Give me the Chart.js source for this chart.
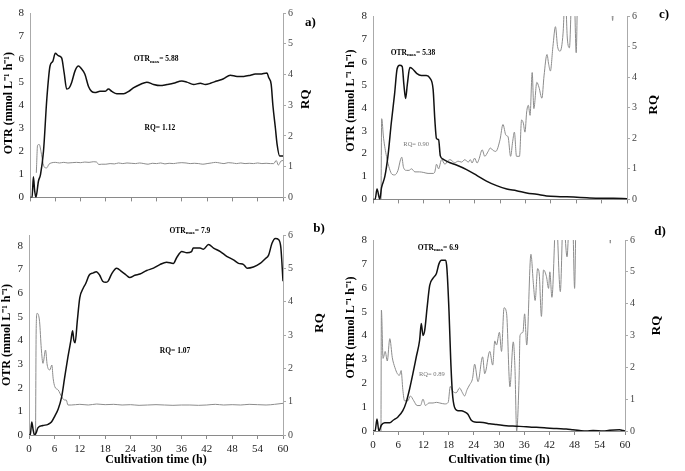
<!DOCTYPE html>
<html>
<head>
<meta charset="utf-8">
<script src="https://cdn.jsdelivr.net/npm/chart.js@4.4.1/dist/chart.umd.min.js"></script>
<style>
  body { margin: 0; background: #fff; width: 685px; height: 471px; position: relative; overflow: hidden; }
  canvas { position: absolute; }
</style>
</head>
<body>
<canvas id="pa"></canvas>
<canvas id="pb"></canvas>
<canvas id="pc"></canvas>
<canvas id="pd"></canvas>
<script>
// ---- data (time in h, OTR in mmol/L/h, RQ dimensionless) ----
var xTicks = [0, 6, 12, 18, 24, 30, 36, 42, 48, 54, 60];
var otrTicks = [0, 1, 2, 3, 4, 5, 6, 7, 8];
var rqTicks = [0, 1, 2, 3, 4, 5, 6];

// a)
var otrA_t = [0, 0.5, 0.8, 1.1, 1.4, 2, 2.5, 3.2, 4, 4.75, 5.4, 6, 6.7, 7.5, 8.1, 8.7, 9.3, 9.9, 10.7, 11.5, 12.1, 13, 13.9, 14.6, 15.4, 16.6, 17.8, 18.6, 19.4, 20.6, 22.2, 23.4, 24.5, 26.1, 27.7, 29.3, 30.9, 32.5, 34, 36, 37.2, 38.8, 40.4, 41.6, 42.8, 44.3, 45.9, 47.5, 49.1, 50.7, 52.3, 53.4, 54.6, 56.2, 56.6, 57.2, 57.6, 58.2, 58.6, 59.2, 60];
var otrA_v = [0, 0, 0.9, 0.3, 0, 0.7, 1.0, 2.0, 4.3, 5.7, 5.9, 6.25, 6.15, 6.05, 5.4, 4.7, 4.75, 5.0, 5.5, 5.7, 5.6, 5.35, 4.8, 4.6, 4.55, 4.6, 4.6, 4.7, 4.6, 4.5, 4.5, 4.6, 4.75, 4.9, 5.0, 4.9, 4.85, 4.9, 4.95, 5.05, 5.0, 4.9, 4.95, 4.9, 4.95, 5.05, 5.15, 5.3, 5.25, 5.25, 5.3, 5.35, 5.35, 5.4, 5.2, 4.9, 4.0, 3.0, 2.3, 1.8, 1.8];
var rqA_t = [1.5, 1.8, 2.2, 2.6, 3.1, 3.5, 3.95, 4.5, 5.0, 6, 7, 8, 9, 10, 11, 12, 13, 14, 15, 15.8, 16.3, 17, 18, 19, 20, 21, 22, 23, 24, 25, 26, 27, 28, 29, 30, 31, 32, 33, 34, 35, 36, 37, 38, 39, 40, 41, 42, 43, 44, 45, 46, 47, 48, 49, 50, 51, 52, 53, 54, 55, 56, 57, 57.8, 58.4, 58.9, 59.5, 60];
var rqA_v = [0.8, 1.7, 1.72, 1.5, 1.1, 0.97, 0.96, 1.08, 1.12, 1.14, 1.12, 1.14, 1.12, 1.13, 1.14, 1.13, 1.15, 1.14, 1.16, 1.15, 1.07, 1.08, 1.08, 1.1, 1.09, 1.12, 1.1, 1.12, 1.11, 1.1, 1.12, 1.1, 1.08, 1.11, 1.1, 1.12, 1.09, 1.11, 1.1, 1.12, 1.13, 1.12, 1.1, 1.11, 1.1, 1.08, 1.1, 1.12, 1.14, 1.12, 1.1, 1.13, 1.12, 1.1, 1.12, 1.1, 1.11, 1.1, 1.12, 1.1, 1.11, 1.1, 1.1, 1.2, 1.05, 1.18, 1.2];

// b)
var otrB_t = [0, 0.3, 0.65, 1.0, 1.3, 1.7, 2.1, 3.3, 4.5, 5.3, 6.1, 6.9, 7.7, 8.4, 9.2, 9.9, 10.3, 10.6, 10.9, 11.4, 12, 12.8, 13.4, 14.2, 15.2, 15.9, 16.7, 17.4, 18.2, 18.7, 19.5, 20.7, 21.9, 23, 23.8, 25, 26.2, 27.8, 29.4, 30.9, 32.5, 34.1, 34.9, 36.1, 37.3, 38.4, 38.8, 40.4, 41.2, 42.4, 43.6, 45.2, 46.7, 48.3, 49.5, 50.7, 51.5, 53, 54.6, 55.8, 56.6, 57.4, 58.2, 59, 59.5, 60];
var otrB_v = [0, 0, 0.55, 0.2, 0, 0.1, 0.3, 0.4, 0.45, 0.55, 0.8, 1.1, 1.6, 2.4, 3.3, 4.0, 4.4, 4.0, 3.9, 4.8, 5.8, 6.2, 6.4, 6.75, 6.85, 6.9, 6.75, 6.5, 6.45, 6.5, 6.8, 7.05, 6.9, 6.75, 6.65, 6.75, 6.8, 6.95, 7.05, 7.2, 7.3, 7.25, 7.5, 7.75, 7.7, 7.75, 7.9, 7.9, 7.85, 8.05, 7.9, 7.75, 7.55, 7.4, 7.25, 7.2, 7.05, 7.1, 7.25, 7.45, 7.6, 8.1, 8.3, 8.25, 7.9, 6.5];
var rqB_t = [1.55, 1.7, 1.9, 2.5, 2.9, 3.3, 3.9, 4.3, 4.9, 5.4, 5.7, 6.1, 6.9, 7.7, 8.4, 8.8, 9.2, 10, 12, 14, 16, 18, 20, 22, 24, 26, 28, 30, 32, 34, 36, 38, 40, 42, 44, 46, 48, 50, 52, 54, 56, 58, 60];
var rqB_v = [0, 3.2, 3.65, 3.4, 2.6, 2.15, 2.55, 2.1, 1.95, 2.1, 1.7, 1.45, 1.35, 1.15, 1.05, 1.05, 0.9, 0.9, 0.92, 0.9, 0.93, 0.91, 0.92, 0.9, 0.91, 0.89, 0.9, 0.91, 0.9, 0.89, 0.9, 0.9, 0.89, 0.9, 0.92, 0.9, 0.91, 0.9, 0.92, 0.91, 0.9, 0.92, 0.95];

// c)
var otrC_t = [0, 0.5, 0.95, 1.6, 2, 2.8, 3.6, 4.3, 5.1, 5.7, 6.3, 6.9, 7.3, 7.7, 8.1, 8.7, 9.3, 10.3, 11.4, 12.6, 13.4, 14.2, 14.6, 15, 15.5, 15.9, 16.6, 18.2, 19.7, 22.1, 24.5, 26.8, 29.2, 31.6, 33.9, 36.3, 38.7, 41, 44.2, 47.4, 50.5, 53.7, 56.8, 60];
var otrC_v = [0, 0, 0.45, 0, 0.5, 1.0, 2.0, 3.3, 4.6, 5.7, 5.85, 5.8, 5.0, 4.4, 5.0, 5.75, 5.7, 5.5, 5.4, 5.4, 5.3, 4.8, 3.5, 2.65, 2.6, 1.9, 1.75, 1.6, 1.5, 1.3, 1.05, 0.8, 0.6, 0.45, 0.38, 0.28, 0.22, 0.15, 0.12, 0.1, 0.07, 0.05, 0.05, 0.03];
var rqC_t = [1.9, 2.05, 2.5, 3.2, 3.9, 4.5, 5.1, 5.9, 6.5, 6.8, 7.2, 7.9, 8.5, 9.1, 9.9, 11, 12, 13, 14.2, 14.6, 15.0, 15.5, 16.2, 17, 17.6, 18.2, 19.3, 20.1, 20.9, 21.7, 22.5, 23.0, 23.4, 24.0, 24.6, 25.0, 25.8, 26.4, 27.2, 27.7, 28.4, 29.0, 30.0, 30.7, 31.4, 31.9, 32.5, 33.0, 33.4, 33.9, 34.6, 35.1, 35.5, 35.9, 36.3, 36.7, 37.1, 37.6, 38.0, 38.7, 39.2, 39.9, 40.4, 41.1, 41.5, 41.9, 42.5, 43.1, 43.6, 44.2, 44.9, 45.4, 45.9, 46.4, 47.0, 47.5, 48.0, 48.4, 50, 56.2, 56.6, 57, 60];
var rqC_v = [0, 2.64, 2.0, 1.4, 1.0, 0.82, 0.8, 0.95, 1.3, 1.38, 1.05, 0.95, 0.95, 1.0, 0.9, 0.9, 0.88, 0.85, 0.85, 0.9, 1.15, 1.0, 1.3, 1.15, 1.25, 1.3, 1.2, 1.25, 1.22, 1.3, 1.22, 1.3, 1.19, 1.35, 1.19, 1.3, 1.62, 1.41, 1.57, 1.68, 1.6, 1.57, 1.95, 2.45, 2.1, 2.05, 1.41, 1.9, 2.2, 1.41, 1.41, 2.6, 2.5, 2.2, 2.86, 3.08, 2.75, 4.15, 2.97, 3.83, 3.67, 3.31, 4.04, 4.74, 4.42, 4.2, 5.0, 5.65, 5.0, 4.85, 5.44, 6.8, 5.28, 4.96, 6.8, 6.8, 4.8, 7, 7, 7, 5.85, 7, 7];

// d)
var otrD_t = [0, 0.5, 0.95, 1.4, 2, 2.8, 4, 4.8, 6, 7.1, 7.9, 8.7, 9.5, 10.3, 11.1, 11.5, 11.9, 12.3, 12.9, 13.5, 14.3, 15.1, 15.7, 16.3, 17.3, 17.6, 18.1, 18.5, 18.9, 19.4, 20.2, 21, 21.8, 22.6, 23.4, 24.2, 26.2, 27.8, 29.4, 31.7, 34.1, 36.5, 38.1, 39.7, 41.3, 43.7, 46, 47.6, 49.2, 50.8, 52.4, 54.8, 56.3, 58.7, 59.5, 60];
var otrD_v = [0, 0, 0.5, 0, 0.25, 0.35, 0.35, 0.45, 0.6, 0.85, 1.2, 1.75, 2.4, 3.1, 3.8, 4.5, 4.0, 4.2, 5.2, 6.1, 6.4, 6.6, 7.0, 7.15, 7.15, 6.8, 5.0, 3.0, 1.6, 1.0, 0.85, 0.85, 0.8, 0.7, 0.45, 0.38, 0.36, 0.3, 0.27, 0.22, 0.2, 0.18, 0.16, 0.15, 0.13, 0.1, 0.08, 0.05, 0.02, 0, 0.02, 0, 0.03, 0.05, 0.02, 0];
var rqD_t = [1.9, 2.0, 2.4, 2.9, 3.4, 4.0, 4.6, 5.2, 5.8, 6.3, 6.7, 7.1, 7.5, 8.3, 8.9, 9.7, 10.5, 11.3, 11.9, 12.5, 13.3, 14.3, 15.1, 15.9, 17.1, 17.9, 18.4, 19.0, 19.8, 20.6, 21.3, 21.8, 22.4, 23.0, 23.7, 24.2, 25.0, 26.1, 26.6, 27.8, 28.5, 29.0, 29.4, 30.1, 30.6, 31.2, 31.8, 32.6, 33.4, 33.8, 34.2, 34.8, 35.0, 35.7, 36.1, 36.6, 37.6, 38.2, 38.6, 39.2, 39.6, 40.1, 40.6, 41.3, 41.8, 42.1, 42.6, 43.6, 44.6, 45.3, 46.2, 46.8, 47.5, 48.0, 48.4, 50, 56.2, 56.5, 56.8, 60];
var rqD_v = [0, 3.8, 2.28, 2.5, 2.2, 2.9, 2.3, 2.0, 1.8, 1.75, 1.9, 1.3, 0.95, 0.95, 1.1, 0.95, 0.8, 0.8, 1.0, 0.8, 0.88, 0.88, 0.9, 0.88, 0.85, 0.9, 1.4, 1.25, 1.2, 1.35, 1.2, 1.1, 1.3, 1.45, 1.65, 2.1, 1.55, 2.33, 1.8, 2.5, 2.07, 2.83, 2.7, 3.1, 2.5, 3.87, 3.7, 1.39, 2.8, 1.97, 0, 1.76, 3.0, 3.1, 3.68, 2.7, 5.55, 4.6, 4.1, 5.1, 4.9, 3.6, 5.06, 4.85, 4.48, 5.0, 4.2, 6.8, 4.38, 6.8, 5.47, 6.8, 6.8, 4.48, 7, 7, 7, 5.9, 7, 7];

var FONT = '"Liberation Serif", "Times New Roman", serif';

function pts(t, v) {
  if (t.length !== v.length) console.warn('length mismatch', t.length, v.length);
  return t.map(function(x, i) { return { x: x, y: v[i] }; });
}

// text drawn on top of every panel
var panelText = {
  id: 'panelText',
  afterDraw: function(chart) {
    var p = chart.options.plugins.panelText;
    var ctx = chart.ctx, ca = chart.chartArea;
    var xs = chart.scales.x, ys = chart.scales.y;
    ctx.save();
    ctx.fillStyle = '#000';
    ctx.textBaseline = 'middle';

    // OTRmax label
    var cx = xs.getPixelForValue(p.maxAt[0]), cy = ys.getPixelForValue(p.maxAt[1]);
    var big = 'bold 7.5px ' + FONT, small = 'bold 5px ' + FONT;
    ctx.font = big;
    var w1 = ctx.measureText('OTR').width, w3 = ctx.measureText('= ' + p.maxVal).width;
    ctx.font = small;
    var w2 = ctx.measureText('max').width;
    var x = cx - (w1 + w2 + w3) / 2;
    ctx.textAlign = 'left';
    ctx.font = big; ctx.fillText('OTR', x, cy); x += w1;
    ctx.font = small; ctx.fillText('max', x, cy + 2); x += w2;
    ctx.font = big; ctx.fillText('= ' + p.maxVal, x, cy);

    // RQ mean label
    ctx.textAlign = 'center';
    if (p.rqBold) { ctx.font = 'bold 7.5px ' + FONT; ctx.fillStyle = '#000'; }
    else { ctx.font = '6.5px ' + FONT; ctx.fillStyle = '#777'; }
    ctx.fillText(p.rqText, xs.getPixelForValue(p.rqAt[0]), ys.getPixelForValue(p.rqAt[1]));

    // panel letter
    ctx.fillStyle = '#000';
    ctx.font = 'bold 13px ' + FONT;
    ctx.fillText(p.letter, ca.right + p.letterOff[0], ca.top + p.letterOff[1]);

    // left axis title
    ctx.font = 'bold 12px ' + FONT;
    ctx.save();
    ctx.translate(ca.left + p.yTitle[0], (ca.top + ca.bottom) / 2 + p.yTitle[1]);
    ctx.rotate(-Math.PI / 2);
    ctx.fillText('OTR (mmol L\u207B\u00B9 h\u207B\u00B9)', 0, 0);
    ctx.restore();

    // right axis title
    ctx.save();
    ctx.translate(ca.right + p.rqTitle[0], (ca.top + ca.bottom) / 2 + p.rqTitle[1]);
    ctx.rotate(-Math.PI / 2);
    ctx.font = 'bold 13px ' + FONT;
    ctx.fillText('RQ', 0, 0);
    ctx.restore();

    // x axis title
    if (p.xTitle) {
      ctx.font = 'bold 12px ' + FONT;
      ctx.fillText('Cultivation time (h)', (ca.left + ca.right) / 2, ca.bottom + p.xTitle);
    }
    ctx.restore();
  }
};

function makePanel(P) {
  var cv = document.getElementById(P.id);
  cv.width = P.w; cv.height = P.h;
  cv.style.left = P.left + 'px'; cv.style.top = P.top + 'px';
  cv.style.width = P.w + 'px'; cv.style.height = P.h + 'px';
  return new Chart(cv, {
    type: 'line',
    data: {
      datasets: [
        { data: pts(P.otrT, P.otrV), yAxisID: 'y', borderColor: '#111', borderWidth: 1.5,
          pointRadius: 0, cubicInterpolationMode: 'monotone', fill: false },
        { data: pts(P.rqT, P.rqV), yAxisID: 'y1', borderColor: '#8c8c8c', borderWidth: 1,
          pointRadius: 0, cubicInterpolationMode: 'monotone', fill: false }
      ]
    },
    options: {
      responsive: false,
      animation: false,
      devicePixelRatio: 1,
      layout: { padding: { top: P.padTop, left: 0, right: 0, bottom: 0 } },
      plugins: { legend: { display: false }, tooltip: { enabled: false }, panelText: P.text },
      scales: {
        x: {
          type: 'linear', min: 0, max: 60,
          afterBuildTicks: function(s) { s.ticks = xTicks.map(function(v) { return { value: v }; }); },
          afterFit: function(s) { s.height = P.xH; },
          ticks: { display: P.xLabels, color: '#222', padding: 4, maxRotation: 0, autoSkip: false,
                   font: { family: FONT, size: 11 } },
          grid: { drawOnChartArea: false, drawTicks: true, tickLength: 4, color: '#8a8a8a' },
          border: { color: '#8a8a8a' }
        },
        y: {
          position: 'left', min: 0, max: P.yMax,
          afterBuildTicks: function(s) { s.ticks = otrTicks.map(function(v) { return { value: v }; }); },
          afterFit: function(s) { s.width = P.yW; },
          ticks: { color: '#222', padding: 6, font: { family: FONT, size: 11 } },
          grid: { drawOnChartArea: false, drawTicks: false, color: '#aaa' },
          border: { color: '#aaa' }
        },
        y1: {
          position: 'right', min: 0, max: 6,
          afterBuildTicks: function(s) { s.ticks = rqTicks.map(function(v) { return { value: v }; }); },
          afterFit: function(s) { s.width = P.y1W; },
          ticks: { color: '#444', padding: 2, font: { family: FONT, size: 10 } },
          grid: { drawOnChartArea: false, drawTicks: true, tickLength: 3, color: '#aaa' },
          border: { color: '#aaa' }
        }
      }
    },
    plugins: [panelText]
  });
}

makePanel({ id: 'pa', left: 0, top: 0, w: 340, h: 210, padTop: 13, yW: 30, y1W: 57, xH: 10, yMax: 8, xLabels: false,
  otrT: otrA_t, otrV: otrA_v, rqT: rqA_t, rqV: rqA_v,
  text: { maxAt: [29.9, 5.99], maxVal: '5.88', rqAt: [30.8, 3.0], rqText: 'RQ= 1.12', rqBold: true,
          letter: 'a)', letterOff: [27.5, 9.7], yTitle: [-21, -2], rqTitle: [23, -6], xTitle: 0 } });

makePanel({ id: 'pc', left: 340, top: 0, w: 345, h: 212, padTop: 16, yW: 33, y1W: 58, xH: 10, yMax: 8, xLabels: false,
  otrT: otrC_t, otrV: otrC_v, rqT: rqC_t, rqV: rqC_v,
  text: { maxAt: [9.45, 6.4], maxVal: '5.38', rqAt: [10.2, 2.4], rqText: 'RQ= 0.90', rqBold: false,
          letter: 'c)', letterOff: [37, -1], yTitle: [-22, -7], rqTitle: [27, -3], xTitle: 0 } });

makePanel({ id: 'pb', left: 0, top: 220, w: 340, h: 251, padTop: 15, yW: 29, y1W: 57, xH: 36, yMax: 8.45, xLabels: true,
  otrT: otrB_t, otrV: otrB_v, rqT: rqB_t, rqV: rqB_v,
  text: { maxAt: [38, 8.62], maxVal: '7.9', rqAt: [34.5, 3.55], rqText: 'RQ= 1.07', rqBold: true,
          letter: 'b)', letterOff: [36, -6.7], yTitle: [-22, 0], rqTitle: [37, -12], xTitle: 25 } });

makePanel({ id: 'pd', left: 340, top: 220, w: 345, h: 251, padTop: 20, yW: 33, y1W: 60, xH: 40, yMax: 8, xLabels: true,
  otrT: otrD_t, otrV: otrD_v, rqT: rqD_t, rqV: rqD_v,
  text: { maxAt: [15.5, 7.66], maxVal: '6.9', rqAt: [14, 2.39], rqText: 'RQ= 0.89', rqBold: false,
          letter: 'd)', letterOff: [35, -8.3], yTitle: [-22, -8], rqTitle: [32, -10], xTitle: 29 } });
</script>
</body>
</html>
